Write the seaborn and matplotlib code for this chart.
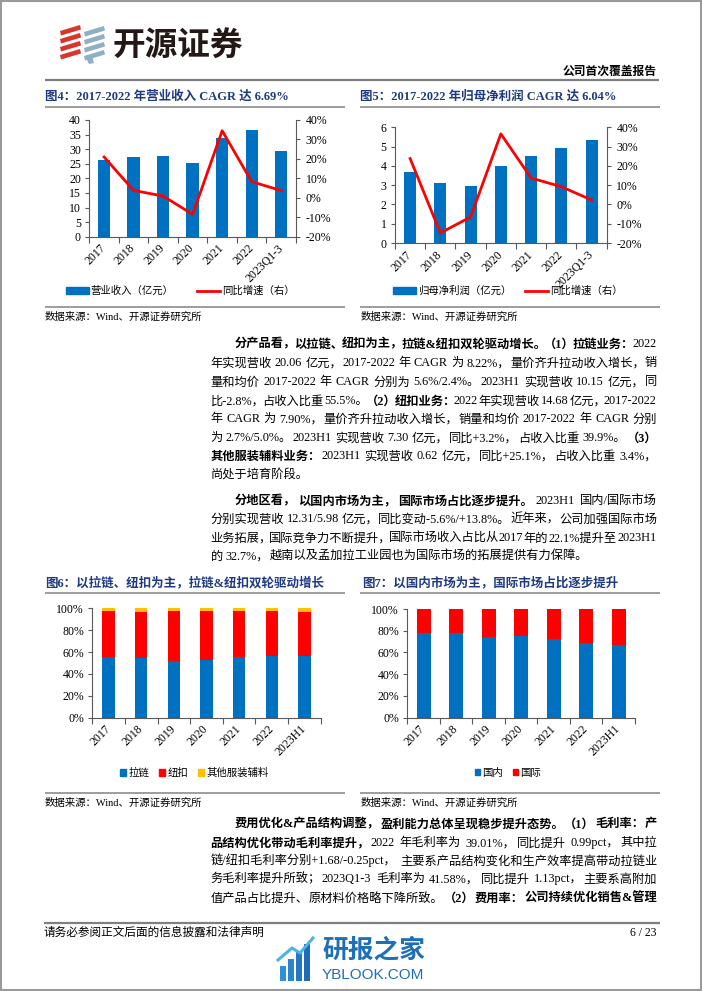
import numpy as np
import matplotlib
matplotlib.use("Agg")
import matplotlib.pyplot as plt
import seaborn as sns
from matplotlib.patches import Patch, Rectangle, Polygon
from matplotlib.lines import Line2D
from matplotlib.font_manager import FontProperties, findfont, get_font

# ---------------- data ----------------
years = ['2017', '2018', '2019', '2020', '2021', '2022', '2023Q1-3']
revenue = [26.4, 27.3, 27.7, 25.1, 33.8, 36.6, 29.3]          # 营业收入（亿元）
revenue_yoy = [21.0, 3.8, 0.9, -8.5, 34.5, 8.3, 3.7]         # 同比增速 %
profit = [3.67, 3.13, 2.94, 3.98, 4.52, 4.93, 5.36]          # 归母净利润（亿元）
profit_yoy = [23.8, -14.8, -6.5, 36.6, 13.7, 9.2, 2.3]       # 同比增速 %

mix_years = ['2017', '2018', '2019', '2020', '2021', '2022', '2023H1']
zipper = [55.8, 54.3, 51.5, 53.0, 55.5, 56.1, 56.4]          # 拉链 %
button = [41.5, 42.3, 46.1, 44.6, 42.4, 41.2, 40.2]          # 纽扣 %
other = [2.7, 3.4, 2.4, 2.4, 2.1, 2.7, 3.4]                  # 其他服装辅料 %
domestic = [77.9, 78.2, 74.5, 75.5, 72.7, 69.0, 67.3]        # 国内 %
overseas = [22.1, 21.8, 25.5, 24.5, 27.3, 31.0, 32.7]        # 国际 %

left_ticks_rev = list(range(0, 41, 5))
left_ticks_profit = list(range(0, 7, 1))
right_ticks = list(range(-20, 41, 10))
pct_ticks = list(range(0, 101, 20))

# ---------------- style ----------------
W, H, DPI = 702, 991, 100
BLUE = '#0070C0'
RED = '#FF0000'
YELLOW = '#FFC000'
AXC = '#595959'
NAVY = '#1F3A80'
TICK = 8.5
FAM = ['Liberation Serif', 'Noto Sans CJK SC', 'DejaVu Sans']
plt.rcParams['font.family'] = FAM
plt.rcParams['axes.unicode_minus'] = False

fig = plt.figure(figsize=(W / DPI, H / DPI), dpi=DPI)
fig.patch.set_facecolor('white')


def px_axes(x0, y0, x1, y1):
    return fig.add_axes([x0 / W, 1 - y1 / H, (x1 - x0) / W, (y1 - y0) / H])


def ftext(x, y, s, size, bold=False, color='black', ha='left', va='center', family=FAM, **kw):
    return fig.text(x / W, 1 - y / H, s, fontsize=size, fontweight='bold' if bold else 'normal',
                    color=color, ha=ha, va=va, family=family, **kw)


def hline(x0, x1, y, lw=1.0, color='#8c8c8c'):
    fig.add_artist(Line2D([x0 / W, x1 / W], [1 - y / H, 1 - y / H], transform=fig.transFigure,
                          lw=lw, color=color, solid_capstyle='butt'))


def poly(pts, color):
    fig.add_artist(Polygon([(x / W, 1 - y / H) for x, y in pts], closed=True,
                           transform=fig.transFigure, facecolor=color, edgecolor='none'))


def style_axes(ax, labels, yticks, ylabels, right=None, rticks=None, rlabels=None):
    ax.set_xlim(-0.5, len(labels) - 0.5)
    ax.set_xticks(range(len(labels)))
    ax.set_xticklabels(labels, rotation=45, ha='right', va='center', rotation_mode='anchor')
    ax.set_xticks(np.arange(-0.5, len(labels), 1.0), minor=True)
    ax.tick_params(axis='x', which='major', length=0, pad=7, labelsize=TICK)
    ax.tick_params(axis='x', which='minor', length=4, width=0.8, color=AXC, direction='out')
    ax.set_yticks(yticks)
    ax.set_yticklabels(ylabels)
    ax.tick_params(axis='y', which='major', length=3, width=0.8, color=AXC, labelsize=TICK, pad=3,
                   direction='out')
    ax.set_xlabel('')
    ax.set_ylabel('')
    ax.spines['top'].set_visible(False)
    ax.spines['right'].set_visible(False)
    for s in ['left', 'bottom']:
        ax.spines[s].set_color(AXC)
        ax.spines[s].set_linewidth(0.8)
    ax.set_facecolor('none')
    if right is not None:
        for s in ['top', 'left', 'bottom']:
            right.spines[s].set_visible(False)
        right.spines['right'].set_color(AXC)
        right.spines['right'].set_linewidth(0.8)
        right.set_yticks(rticks)
        right.set_yticklabels(rlabels)
        right.tick_params(axis='y', length=3, width=0.8, color=AXC, labelsize=TICK, pad=4,
                          direction='out')
        right.set_ylabel('')


# ---------------- header ----------------
fig.add_artist(Rectangle((0.001, 0.001), 0.998, 0.998, transform=fig.transFigure, fill=False,
                         edgecolor='#9a9a9a', lw=1.5))
for i, yy in enumerate([26, 34, 42, 50]):
    poly([(60, yy + 5), (80, yy - 1), (81, yy + 3.5), (61, yy + 9.5)], '#D9352B')
for i, yy in enumerate([27, 35, 43, 51]):
    poly([(84, yy + 5), (104, yy - 1), (105, yy + 3.5), (85, yy + 9.5)], '#8FB0C4')
poly([(86, 58), (92, 56), (94, 63), (89, 64)], '#8FB0C4')
ftext(113, 45, '开源证券', 23.5, bold=True, color='#231815', family=['Noto Sans CJK SC'])
ftext(657, 72, '公司首次覆盖报告', 8.5, bold=True, ha='right')
hline(45, 659, 79.5, lw=1.6, color='#7f7f7f')

# ---------------- figure 4 / 5 titles ----------------
ftext(45, 97, '图4：2017-2022 年营业收入 CAGR 达 6.69%', 9, bold=True, color=NAVY)
ftext(360, 97, '图5：2017-2022 年归母净利润 CAGR 达 6.04%', 9, bold=True, color=NAVY)
hline(45, 345, 106.5, lw=1.2)
hline(360, 660, 106.5, lw=1.2)

# ---------------- chart 1 ----------------
ax1 = px_axes(89.3, 120, 296, 236.7)
sns.barplot(x=years, y=revenue, color=BLUE, saturation=1, width=0.42, linewidth=0, ax=ax1)
ax1.set_ylim(0, 40)
ax1b = ax1.twinx()
sns.lineplot(x=np.arange(len(years)), y=revenue_yoy, color=RED, lw=2.0, ax=ax1b)
ax1b.set_ylim(-20, 40)
style_axes(ax1, years, left_ticks_rev, [str(v) for v in left_ticks_rev],
           ax1b, right_ticks, [f'{v}%' for v in right_ticks])
ax1.set_xlim(-0.5, len(years) - 0.5)

# ---------------- chart 2 ----------------
ax2 = px_axes(395, 127.3, 606.7, 243)
sns.barplot(x=years, y=profit, color=BLUE, saturation=1, width=0.40, linewidth=0, ax=ax2)
ax2.set_ylim(0, 6)
ax2b = ax2.twinx()
sns.lineplot(x=np.arange(len(years)), y=profit_yoy, color=RED, lw=2.0, ax=ax2b)
ax2b.set_ylim(-20, 40)
style_axes(ax2, years, left_ticks_profit, [str(v) for v in left_ticks_profit],
           ax2b, right_ticks, [f'{v}%' for v in right_ticks])
ax2.set_xlim(-0.5, len(years) - 0.5)

LEG = FontProperties(family=FAM, size=7.5)
fig.legend(handles=[Patch(color=BLUE), Line2D([], [], color=RED, lw=2.0)],
           labels=['营业收入（亿元）', '同比增速（右）'], loc='center',
           bbox_to_anchor=(180 / W, 1 - 291 / H), ncol=2, frameon=False, prop=LEG,
           handlelength=2.2, handleheight=0.55, handletextpad=0.2, columnspacing=2.2, borderpad=0)
fig.legend(handles=[Patch(color=BLUE), Line2D([], [], color=RED, lw=2.0)],
           labels=['归母净利润（亿元）', '同比增速（右）'], loc='center',
           bbox_to_anchor=(507.5 / W, 1 - 291 / H), ncol=2, frameon=False, prop=LEG,
           handlelength=2.2, handleheight=0.55, handletextpad=0.2, columnspacing=1.3, borderpad=0)

hline(45, 345, 306.5, lw=1.2)
hline(360, 660, 306.5, lw=1.2)
SRC = '数据来源：Wind、开源证券研究所'
ftext(45, 317, SRC, 7.5)
ftext(361, 317, SRC, 7.5)

# ---------------- justified body text ----------------
_lat = {False: get_font(findfont(FontProperties(family='Liberation Serif'))),
        True: get_font(findfont(FontProperties(family='Liberation Serif', weight='bold')))}
BODY = 8.8
PUNCT = '，。、：；）'


def adv(s, bold, size):
    f = _lat[bold]
    f.set_size(size, DPI)
    em = size * DPI / 72
    w = 0.0
    for ch in s:
        if ord(ch) < 128:
            w += f.load_char(ord(ch)).linearHoriAdvance / 65536
        else:
            w += em
    return w


def draw_line(segments, x0, x1, yc, size=BODY, justify=True):
    space_w = adv(' ', False, size)
    chunks = []
    for text, bold in segments:
        cur = ''
        for ch in text:
            if ch == ' ':
                if cur:
                    chunks.append([cur, bold, 0.0])
                    cur = ''
                if chunks:
                    chunks[-1][2] += space_w
                continue
            cur += ch
            if ch in PUNCT:
                chunks.append([cur, bold, 0.0])
                cur = ''
        if cur:
            chunks.append([cur, bold, 0.0])
    widths = [adv(c[0], c[1], size) for c in chunks]
    natural = sum(widths) + sum(c[2] for c in chunks[:-1])
    ng = len(chunks) - 1
    extra = (x1 - x0 - natural) / ng if (justify and ng > 0) else 0.0
    em = size * DPI / 72
    yb = yc + 0.36 * em
    x = x0
    for (t, b, g), w in zip(chunks, widths):
        fig.text(x / W, 1 - yb / H, t, fontsize=size, fontweight='bold' if b else 'normal',
                 ha='left', va='baseline', family=FAM, color='black')
        x += w + g + extra


XL, XI, XR = 210.5, 235.0, 657.0
B, N = True, False
para1 = [
    (343, XI, [('分产品看，以拉链、纽扣为主，拉链&纽扣双轮驱动增长。（1）拉链业务：', B), ('2022', N)], True),
    (362, XL, [('年实现营收 20.06 亿元，2017-2022 年 CAGR 为 8.22%，量价齐升拉动收入增长，销', N)], True),
    (381, XL, [('量和均价 2017-2022 年 CAGR 分别为 5.6%/2.4%。2023H1 实现营收 10.15 亿元，同', N)], True),
    (400, XL, [('比-2.8%，占收入比重 55.5%。', N), ('（2）纽扣业务：', B), ('2022 年实现营收 14.68 亿元，2017-2022', N)], True),
    (418, XL, [('年 CAGR 为 7.90%，量价齐升拉动收入增长，销量和均价 2017-2022 年 CAGR 分别', N)], True),
    (437, XL, [('为 2.7%/5.0%。2023H1 实现营收 7.30 亿元，同比+3.2%，占收入比重 39.9%。', N), ('（3）', B)], True),
    (455, XL, [('其他服装辅料业务：', B), ('2023H1 实现营收 0.62 亿元，同比+25.1%，占收入比重 3.4%，', N)], True),
    (473, XL, [('尚处于培育阶段。', N)], False),
    (500, XI, [('分地区看，以国内市场为主，国际市场占比逐步提升。', B), ('2023H1 国内/国际市场', N)], True),
    (518, XL, [('分别实现营收 12.31/5.98 亿元，同比变动-5.6%/+13.8%。近年来，公司加强国际市场', N)], True),
    (537, XL, [('业务拓展，国际竞争力不断提升，国际市场收入占比从 2017 年的 22.1%提升至 2023H1', N)], True),
    (555, XL, [('的 32.7%，越南以及孟加拉工业园也为国际市场的拓展提供有力保障。', N)], False),
    (823, XI, [('费用优化&产品结构调整，盈利能力总体呈现稳步提升态势。（1）毛利率：产', B)], True),
    (842, XL, [('品结构优化带动毛利率提升，', B), ('2022 年毛利率为 39.01%，同比提升 0.99pct，其中拉', N)], True),
    (860, XL, [('链/纽扣毛利率分别+1.68/-0.25pct，主要系产品结构变化和生产效率提高带动拉链业', N)], True),
    (878, XL, [('务毛利率提升所致；2023Q1-3 毛利率为 41.58%，同比提升 1.13pct，主要系高附加', N)], True),
    (897, XL, [('值产品占比提升、原材料价格略下降所致。', N), ('（2）费用率：公司持续优化销售&管理', B)], True),
]
for yc, x0, segs, just in para1:
    draw_line(segs, x0, XR, yc, justify=just)

# ---------------- figure 6 / 7 ----------------
ftext(45, 583, '图6：以拉链、纽扣为主，拉链&纽扣双轮驱动增长', 9, bold=True, color=NAVY)
ftext(362, 583, '图7：以国内市场为主，国际市场占比逐步提升', 9, bold=True, color=NAVY)
hline(45, 345, 592.5, lw=1.2)
hline(360, 660, 592.5, lw=1.2)

z = np.array(zipper)
b = np.array(button)
o = np.array(other)
ax3 = px_axes(92.3, 608.3, 320.7, 717.7)
sns.barplot(x=mix_years, y=z + b + o, color=YELLOW, saturation=1, width=0.38, linewidth=0, ax=ax3)
sns.barplot(x=mix_years, y=z + b, color=RED, saturation=1, width=0.38, linewidth=0, ax=ax3)
sns.barplot(x=mix_years, y=z, color=BLUE, saturation=1, width=0.38, linewidth=0, ax=ax3)
ax3.set_ylim(0, 100)
style_axes(ax3, mix_years, pct_ticks, [f'{v}%' for v in pct_ticks])

d = np.array(domestic)
f_ = np.array(overseas)
ax4 = px_axes(407.3, 609, 635, 717.7)
sns.barplot(x=mix_years, y=d + f_, color=RED, saturation=1, width=0.43, linewidth=0, ax=ax4)
sns.barplot(x=mix_years, y=d, color=BLUE, saturation=1, width=0.43, linewidth=0, ax=ax4)
ax4.set_ylim(0, 100)
style_axes(ax4, mix_years, pct_ticks, [f'{v}%' for v in pct_ticks])

fig.legend(handles=[Patch(color=BLUE), Patch(color=RED), Patch(color=YELLOW)],
           labels=['拉链', '纽扣', '其他服装辅料'], loc='center',
           bbox_to_anchor=(194.5 / W, 1 - 773 / H), ncol=3, frameon=False, prop=LEG,
           handlelength=0.55, handleheight=0.55, handletextpad=0.2, columnspacing=1.0, borderpad=0)
fig.legend(handles=[Patch(color=BLUE), Patch(color=RED)],
           labels=['国内', '国际'], loc='center',
           bbox_to_anchor=(508 / W, 1 - 773 / H), ncol=2, frameon=False, prop=LEG,
           handlelength=0.55, handleheight=0.55, handletextpad=0.2, columnspacing=0.9, borderpad=0)

hline(45, 345, 793, lw=1.2)
hline(360, 660, 793, lw=1.2)
ftext(45, 803, SRC, 7.5)
ftext(361, 803, SRC, 7.5)

# ---------------- footer ----------------
hline(44, 660, 923, lw=1.6, color='#7f7f7f')
ftext(44, 932.5, '请务必参阅正文后面的信息披露和法律声明', 8.4)
ftext(657, 932.5, '6 / 23', 8.4, ha='right')

# watermark
wm_cols = ['#2F8FD8', '#2A83CE', '#2377C4', '#1E6BB8']
for i, (bx, top) in enumerate([(280, 966), (288, 959), (296, 951), (304, 944)]):
    fig.add_artist(Rectangle((bx / W, 1 - 981 / H), 6 / W, (981 - top) / H,
                             transform=fig.transFigure, facecolor=wm_cols[i], edgecolor='none'))
fig.add_artist(Line2D([278 / W, 292 / W, 300 / W, 313 / W], [1 - 960 / H, 1 - 948 / H, 1 - 953 / H, 1 - 938 / H],
                      transform=fig.transFigure, color='#4BB3E8', lw=2.2))
ftext(322, 950, '研报之家', 18.5, bold=True, color='#1E6FB8', family=['Noto Sans CJK SC'])
ftext(322, 975, 'YBLOOK.COM', 11, color='#1E6FB8', family=['Liberation Sans'])

fig.savefig('out.png', dpi=DPI, facecolor='white')
